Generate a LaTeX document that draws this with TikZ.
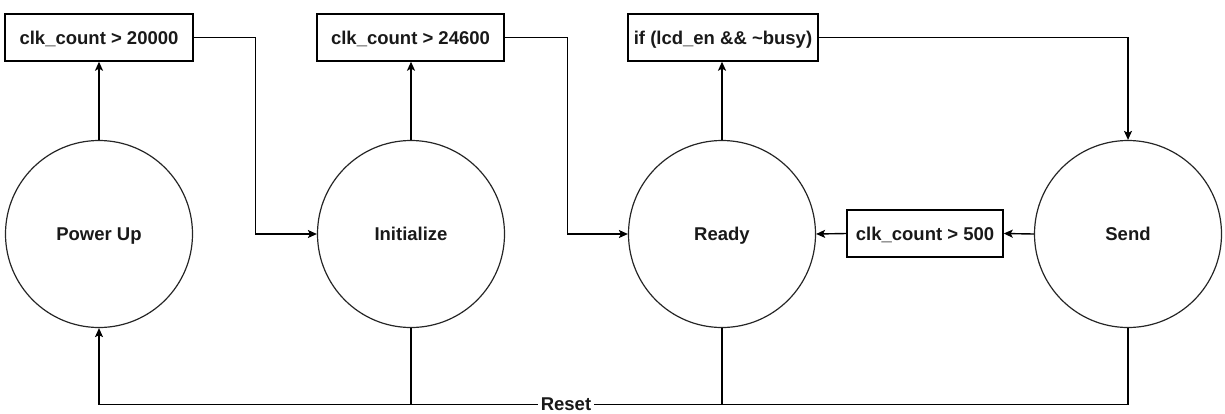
\documentclass[tikz,border=0pt]{standalone}
\usepackage{fontspec}
\setmainfont{Liberation Sans}
\usetikzlibrary{arrows.meta}
\begin{document}
\begin{tikzpicture}[x=1pt,y=-1pt,
  lbl/.style={font=\fontsize{18.5}{22}\selectfont\bfseries, text=black!90,
              text height=13.3pt, text depth=0pt},
  state/.style={circle, draw=black!85, line width=1.2pt, minimum size=187pt, inner sep=0pt, lbl},
  guard/.style={rectangle, draw, line width=1.4pt, minimum height=47pt, inner sep=0pt, lbl},
  wire/.style={line width=1.4pt},
  link/.style={wire, -{Stealth[length=9pt,width=8pt,inset=2pt]}}]
\useasboundingbox (0,0) rectangle (1225,413);

% states
\node[state] (pu)  at (99,234)   {Power Up};
\node[state] (ini) at (411,234)  {Initialize};
\node[state] (rdy) at (722,234)  {Ready};
\node[state] (snd) at (1128,234) {Send};

% transition conditions
\node[guard, minimum width=188pt] (g1) at (99,37.5)    {clk\_count > 20000};
\node[guard, minimum width=187pt] (g2) at (410.5,37.5) {clk\_count > 24600};
\node[guard, minimum width=190pt] (g3) at (723,37.5)   {if (lcd\_en \&\& \textasciitilde busy)};
\node[guard, minimum width=156pt] (g4) at (925,233.5)  {clk\_count > 500};

% forward transitions
\draw[link] (pu.north) -- (g1.south);
\draw[link] (g1.east) -- ++(62,0) |- (ini.west);
\draw[link] (ini.north) -- (ini.north |- g2.south);
\draw[link] (g2.east) -- ++(63,0) |- (rdy.west);
\draw[link] (rdy.north) -- (rdy.north |- g3.south);
\draw[link] (g3.east) -| (snd.north);
\draw[link] (snd.west) -- (g4.east);
\draw[link] (g4.west) -- (rdy.east);

% reset bus
\coordinate (busR) at (1128,404.5);
\draw[link] (snd.south) -- (busR) -| (pu.south);
\draw[wire] (ini.south) -- (ini.south |- busR);
\draw[wire] (rdy.south) -- (rdy.south |- busR);
\node[lbl, fill=white, inner xsep=3pt, inner ysep=0.5pt] (reset) at (566,404) {Reset};
\end{tikzpicture}
\end{document}
